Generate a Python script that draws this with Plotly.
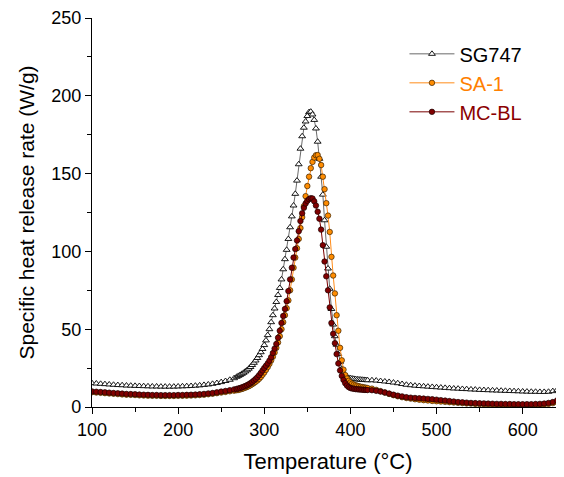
import plotly.graph_objects as go

# Temperature grid (°C)
T_low = list(range(100, 266, 5))
T_mid = list(range(268, 421, 2))
T_high = list(range(425, 651, 5))

sg747_low = [15.3, 15.1, 14.9, 14.7, 14.5, 14.3, 14.1, 14.0, 13.8, 13.7, 13.6, 13.5, 13.4, 13.3, 13.2, 13.2, 13.1,
             13.1, 13.1, 13.1, 13.2, 13.3, 13.4, 13.5, 13.7, 13.9, 14.2, 14.5, 14.9, 15.4, 16.0, 16.7, 17.5, 18.5]
sg747_mid = [19.4, 20.0, 20.6, 21.3, 22.0, 22.8, 23.6, 24.6, 25.7, 27.0, 28.4, 29.9, 31.5, 33.3, 35.2, 37.3, 39.8,
             42.8, 46.2, 50.0, 54.5, 59.0, 63.3, 67.5, 72.0, 76.5, 82.0, 88.5, 95.0, 101.0, 108.0, 115.5, 122.5,
             129.5, 137.0, 145.5, 156.0, 166.0, 174.0, 179.5, 183.5, 187.0, 189.5, 189.8, 188.0, 184.5, 179.0,
             170.5, 159.5, 148.0, 136.5, 120.0, 103.0, 89.0, 76.0, 63.0, 53.0, 45.5, 40.0, 34.0, 29.0, 24.5, 21.5,
             19.8, 19.1, 18.7, 18.5, 18.3, 18.1, 17.9, 17.8, 17.7, 17.6, 17.5, 17.4, 17.3, 17.2]
sg747_high = [17.2, 17.0, 16.7, 16.4, 16.1, 15.7, 15.3, 14.8, 14.3, 14.0, 13.7, 13.5, 13.3, 13.1, 12.9, 12.7, 12.5,
              12.3, 12.1, 11.9, 11.8, 11.6, 11.5, 11.3, 11.2, 11.0, 10.9, 10.8, 10.7, 10.6, 10.5, 10.4, 10.3, 10.2,
              10.1, 10.0, 9.9, 9.8, 9.8, 9.7, 9.7, 9.8, 10.2, 11.0, 10.5, 10.2]

sa1_low = [9.5, 9.3, 9.1, 8.9, 8.7, 8.5, 8.3, 8.1, 7.9, 7.8, 7.7, 7.5, 7.4, 7.3, 7.2, 7.2, 7.1, 7.1, 7.1, 7.1, 7.2,
           7.2, 7.3, 7.4, 7.5, 7.7, 7.9, 8.2, 8.5, 8.9, 9.3, 9.7, 10.1, 10.5]
sa1_mid = [10.8, 11.0, 11.3, 11.6, 12.0, 12.4, 12.9, 13.4, 14.0, 14.7, 15.4, 16.2, 17.1, 18.1, 19.3, 20.7, 22.2,
           23.9, 25.7, 27.7, 29.9, 32.3, 35.0, 38.0, 41.5, 45.5, 50.0, 54.5, 59.0, 63.5, 68.5, 75.0, 82.0, 89.5,
           96.0, 102.0, 108.0, 115.0, 122.0, 129.0, 135.5, 142.0, 148.0, 153.5, 157.5, 160.3, 161.8, 161.9, 159.5,
           155.5, 148.0, 140.0, 131.0, 123.0, 112.5, 96.5, 84.5, 73.0, 59.0, 49.0, 38.0, 30.0, 24.0, 20.5, 18.3,
           16.8, 15.8, 15.0, 14.4, 14.0, 13.6, 13.3, 13.0, 12.8, 12.6, 12.4, 12.2]
sa1_high = [11.8, 11.0, 10.2, 9.3, 8.4, 7.6, 6.9, 6.3, 5.8, 5.4, 5.0, 4.7, 4.4, 4.2, 3.9, 3.7, 3.5, 3.3, 3.1, 2.9,
            2.7, 2.5, 2.3, 2.2, 2.0, 1.9, 1.8, 1.7, 1.6, 1.5, 1.5, 1.4, 1.4, 1.3, 1.3, 1.3, 1.3, 1.3, 1.4, 1.5, 1.7,
            2.0, 2.5, 3.2, 3.6, 3.5]

mcbl_low = [10.0, 9.8, 9.6, 9.4, 9.2, 9.0, 8.8, 8.6, 8.4, 8.3, 8.2, 8.0, 7.9, 7.8, 7.7, 7.7, 7.6, 7.6, 7.6, 7.6, 7.7,
            7.7, 7.8, 7.9, 8.0, 8.2, 8.4, 8.7, 9.0, 9.4, 9.9, 10.3, 10.8, 11.3]
mcbl_mid = [11.6, 11.9, 12.2, 12.6, 13.0, 13.5, 14.0, 14.6, 15.3, 16.1, 17.0, 18.0, 19.1, 20.4, 21.9, 23.5, 25.0,
            26.5, 28.0, 29.8, 32.0, 34.7, 37.5, 40.5, 44.5, 49.0, 54.0, 58.5, 63.0, 68.0, 74.5, 82.0, 89.5, 96.0,
            101.5, 107.0, 113.0, 119.5, 124.5, 128.0, 130.8, 132.5, 133.6, 134.2, 134.0, 132.2, 129.5, 125.5, 121.0,
            114.0, 104.0, 93.5, 84.0, 75.0, 64.0, 54.0, 47.0, 41.0, 34.0, 28.0, 23.5, 20.0, 17.4, 15.3, 13.8, 12.8,
            12.2, 11.9, 11.7, 11.5, 11.4, 11.3, 11.2, 11.1, 11.0, 11.0, 10.9]
mcbl_high = [10.8, 10.4, 9.9, 9.3, 8.6, 7.9, 7.3, 6.8, 6.3, 6.0, 5.8, 5.6, 5.4, 5.2, 5.0, 4.7, 4.4, 4.1, 3.8, 3.5,
             3.2, 3.0, 2.8, 2.6, 2.5, 2.4, 2.3, 2.2, 2.1, 2.0, 2.0, 1.9, 1.9, 1.8, 1.8, 1.8, 1.8, 1.8, 1.9, 2.0, 2.2,
             2.6, 3.2, 4.2, 4.6, 4.4]

T = T_low + T_mid + T_high
sg747 = sg747_low + sg747_mid + sg747_high
sa1 = sa1_low + sa1_mid + sa1_high
mcbl = mcbl_low + mcbl_mid + mcbl_high

x_ticks = [100, 200, 300, 400, 500, 600]
y_ticks = [0, 50, 100, 150, 200, 250]

FONT = "Liberation Sans, Arial, sans-serif"

fig = go.Figure()
fig.add_trace(go.Scatter(
    x=T, y=sg747, mode="lines+markers", name="SG747",
    line=dict(color="#444444", width=0.8),
    marker=dict(symbol="triangle-up", size=6, color="white", line=dict(color="black", width=0.9)),
))
fig.add_trace(go.Scatter(
    x=T, y=sa1, mode="lines+markers", name="<span style='color:#FF8000'>SA-1</span>",
    line=dict(color="#FF8C1A", width=1),
    marker=dict(symbol="circle", size=5.5, color="#FF8C00", line=dict(color="#3a2000", width=0.7)),
))
fig.add_trace(go.Scatter(
    x=T, y=mcbl, mode="lines+markers", name="<span style='color:#8B0000'>MC-BL</span>",
    line=dict(color="#7A0000", width=1),
    marker=dict(symbol="circle", size=5.5, color="#800000", line=dict(color="#1a0000", width=0.7)),
))

# page body has an 8px margin, so the figure is sized to fit the 564x477 window
fig.update_layout(
    width=556, height=469,
    margin=dict(l=84, r=0, t=10, b=70, autoexpand=False),
    paper_bgcolor="white", plot_bgcolor="white",
    font=dict(family=FONT, size=18, color="black"),
    showlegend=True,
    legend=dict(x=0.662, y=0.958, xanchor="left", yanchor="top",
                font=dict(size=20, color="black"), bgcolor="rgba(0,0,0,0)",
                itemwidth=45, tracegroupgap=0),
)
fig.update_xaxes(
    range=[100, 648], tickvals=x_ticks, ticktext=[str(v) for v in x_ticks],
    automargin=False,
    showline=True, linecolor="black", linewidth=1.2, mirror=False,
    ticks="outside", ticklen=6, tickwidth=1.2, tickcolor="black",
    minor=dict(ticks="outside", ticklen=4, tickwidth=1.2, tickcolor="black", dtick=50, tick0=100, showgrid=False),
    showgrid=False, zeroline=False,
    title=dict(text="Temperature (°C)", font=dict(size=22), standoff=14),
    tickfont=dict(size=18),
)
fig.update_yaxes(
    range=[0, 250], tickvals=y_ticks, ticktext=[str(v) for v in y_ticks],
    automargin=False,
    showline=True, linecolor="black", linewidth=1.2, mirror=False,
    ticks="outside", ticklen=6, tickwidth=1.2, tickcolor="black",
    minor=dict(ticks="outside", ticklen=4, tickwidth=1.2, tickcolor="black", dtick=25, tick0=0, showgrid=False),
    showgrid=False, zeroline=False,
    title=dict(text="Specific heat release rate (W/g)", font=dict(size=21), standoff=10),
    tickfont=dict(size=18),
)

fig.write_html("out.html")
